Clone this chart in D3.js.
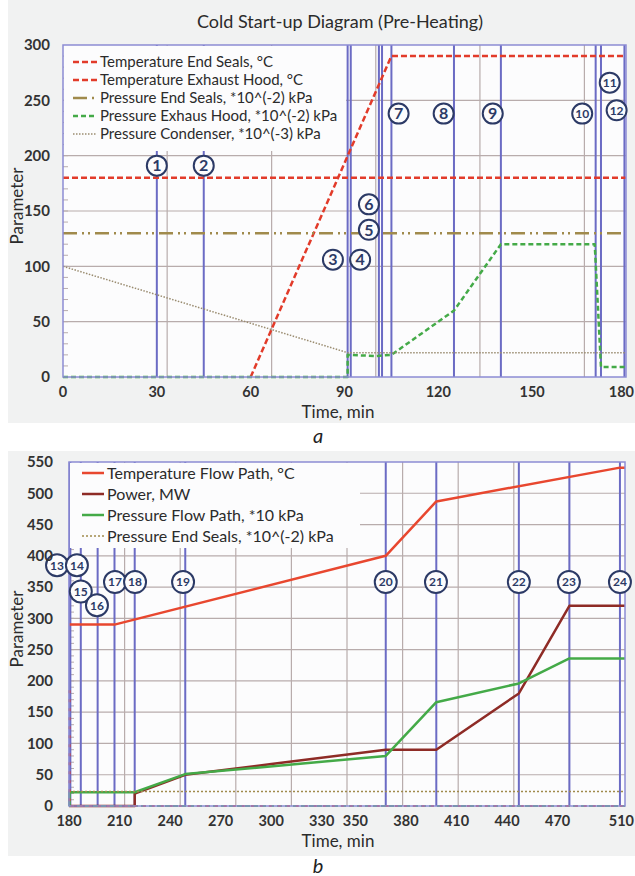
<!DOCTYPE html>
<html>
<head>
<meta charset="utf-8">
<script src="https://cdn.jsdelivr.net/npm/d3@7"></script>
<style>
  body { margin: 0; background: #fff; }
  svg text { font-family: Lato, "DejaVu Sans", sans-serif; }
</style>
</head>
<body>
<div id="chart"></div>
<script>
// ---------- panel a : pre-heating (time, min) ----------
const timeTicksA = [0, 30, 60, 90, 120, 150, 180];
const valueTicksA = [0, 50, 100, 150, 200, 250, 300];
const tempEndSealsA = [[0, 180], [180, 180]];
const tempExhaustHoodA = [[60, 0], [105, 290], [180, 290]];
const presEndSealsA = [[0, 130], [180, 130]];
const presExhaustHoodA = [[0, 0], [91, 0], [91, 20], [100, 19], [105, 20], [125, 60], [140, 120], [170, 120], [172, 9], [180, 9]];
const presCondenserA = [[0, 100], [91, 22], [180, 22]];
const markerTimesA = [30, 45, 91, 92, 101, 102, 105, 125, 140, 170.3, 172, 179.5];
const markerLabelsA = ["1", "2", "3", "4", "5", "6", "7", "8", "9", "10", "11", "12"];
const markerLabelAtA = [[30, 191], [45, 191], [86.3, 106], [95, 106], [97.8, 133], [97.8, 156],
  [107.3, 238], [121.7, 238], [137.4, 238], [166, 238], [174.8, 266], [177, 241]];

// ---------- panel b : loading (time, min) ----------
const timeTicksB = [180, 210, 240, 270, 300, 330, 350, 380, 410, 440, 470, 510];
const valueTicksB = [0, 50, 100, 150, 200, 250, 300, 350, 400, 450, 500, 550];
const tempFlowPathB = [[180, 290], [207, 290], [368, 400], [398, 487], [507, 541], [510, 541]];
const powerB = [[180, 0], [219, 0], [219, 20], [249, 50], [368, 90], [398, 90], [447, 180], [477, 320], [510, 320]];
const presFlowPathB = [[180.3, 0], [180.3, 22], [219, 22], [249, 51], [368, 80], [398, 166], [447, 196], [477, 236], [510, 236]];
const presEndSealsB = [[180, 23], [510, 23]];
const tempEndSealsB = [[180.3, 185], [180.3, 0], [510, 0]];
const presExhaustHoodB = [[180, 0], [510, 0]];
const markerTimesB = [180.4, 180.8, 187, 197, 207, 219, 249, 368, 398, 447, 477, 507];
const markerLabelsB = ["13", "14", "15", "16", "17", "18", "19", "20", "21", "22", "23", "24"];
const markerLabelAtB = [[172.9, 385], [184.7, 385], [187, 343], [196.6, 321], [207.3, 358], [219.2, 358],
  [247.7, 358], [368, 358], [397.8, 358], [447, 358], [476.7, 358], [507, 358]];

const W = 635, H = 876;
const svg = d3.select("#chart").append("svg").attr("width", W).attr("height", H);

const RED = "#e23b2a", GREEN = "#44aa48", OLIVE = "#a08a4c", GRID = "#b8acac", BLUE = "#6b6bc4";

function drawPanel(p) {
  svg.append("rect").attr("x", p.bg[0]).attr("y", p.bg[1]).attr("width", p.bg[2]).attr("height", p.bg[3]).attr("fill", "#f1f2f2");
  const x = d3.scaleLinear().domain(p.xDomain).range([p.left, p.right]);
  const y = d3.scaleLinear().domain(p.yDomain).range([p.bottom, p.top]);
  const g = svg.append("g");

  g.append("rect").attr("x", p.left).attr("y", p.top).attr("width", p.right - p.left).attr("height", p.bottom - p.top)
    .attr("fill", "#fcfcfd");

  // grid
  g.selectAll(null).data(p.gridX).join("line")
    .attr("x1", d => x(d)).attr("x2", d => x(d)).attr("y1", p.top).attr("y2", p.bottom)
    .attr("stroke", GRID).attr("stroke-width", 1.2);
  g.selectAll(null).data(p.yTicks.slice(1, -1)).join("line")
    .attr("x1", p.left).attr("x2", p.right).attr("y1", d => y(d)).attr("y2", d => y(d))
    .attr("stroke", GRID).attr("stroke-width", 1.2);
  // minor ticks on the value axis
  g.selectAll(null).data(d3.range(p.yDomain[0], p.yDomain[1], 10)).join("line")
    .attr("x1", p.left).attr("x2", p.left + 5).attr("y1", d => y(d)).attr("y2", d => y(d))
    .attr("stroke", GRID).attr("stroke-width", 1);

  // event markers (vertical lines)
  g.selectAll(null).data(p.markerTimes).join("line")
    .attr("x1", d => x(d)).attr("x2", d => x(d)).attr("y1", p.top).attr("y2", p.bottom)
    .attr("stroke", BLUE).attr("stroke-width", 2);

  const line = d3.line().x(d => x(d[0])).y(d => y(d[1]));
  p.series.forEach(s => {
    g.append("path").attr("d", line(s.data)).attr("fill", "none")
      .attr("stroke", s.color).attr("stroke-width", s.width || 2.5)
      .attr("stroke-dasharray", s.dash || null).attr("stroke-linejoin", "round");
  });

  // border
  g.append("rect").attr("x", p.left).attr("y", p.top).attr("width", p.right - p.left).attr("height", p.bottom - p.top)
    .attr("fill", "none").attr("stroke", "#8c8cd4").attr("stroke-width", 1.5);

  // legend
  const lg = p.legend;
  g.append("rect").attr("x", p.left + 1).attr("y", p.top + 1).attr("width", lg.w).attr("height", lg.h).attr("fill", "#fcfcfd");
  p.series.filter(s => s.name).forEach((s, i) => {
    const yy = lg.y0 + i * lg.dy;
    g.append("line").attr("x1", lg.x0).attr("x2", lg.x0 + lg.len).attr("y1", yy).attr("y2", yy)
      .attr("stroke", s.color).attr("stroke-width", s.width || 2.5).attr("stroke-dasharray", s.dash || null);
    g.append("text").attr("x", lg.x0 + lg.len + 3).attr("y", yy).attr("dy", "0.35em")
      .attr("font-size", lg.fs).attr("fill", "#2b2b2b").text(s.name);
  });

  // marker labels
  const mk = g.selectAll(null).data(p.markerLabels).join("g")
    .attr("transform", (d, i) => `translate(${x(p.markerAt[i][0])},${y(p.markerAt[i][1])})`);
  mk.append("circle").attr("r", p.r).attr("fill", "#fcfcfd").attr("stroke", "#2c3a66").attr("stroke-width", 2);
  mk.append("text").attr("text-anchor", "middle").attr("dy", "0.36em").attr("font-weight", "bold")
    .attr("font-size", d => d.length > 1 ? 12 : 16).attr("fill", "#2c3a66").text(d => d);

  // axes labels
  g.selectAll(null).data(p.yTicks).join("text")
    .attr("x", p.left - p.yLabOff).attr("y", d => y(d)).attr("dy", "0.35em").attr("text-anchor", "end")
    .attr("font-size", 15).attr("font-weight", "bold").attr("fill", "#333").text(d => d);
  const last = p.xTicks[p.xTicks.length - 1];
  g.selectAll(null).data(p.xTicks).join("text")
    .attr("x", d => d === last ? W - 1 : x(d)).attr("y", p.bottom + 20)
    .attr("text-anchor", d => d === last ? "end" : "middle")
    .attr("font-size", 14.5).attr("font-weight", "bold").attr("fill", "#333").text(d => d);
  g.append("text").attr("x", 338).attr("y", p.bottom + 41).attr("text-anchor", "middle")
    .attr("font-size", 17).attr("fill", "#2b2b2b").text("Time, min");
  g.append("text").attr("transform", `translate(23,${(p.top + p.bottom) / 2 - 5}) rotate(-90)`)
    .attr("text-anchor", "middle").attr("font-size", 17).attr("fill", "#2b2b2b").text("Parameter");
  g.append("text").attr("x", 318).attr("y", p.captionY).attr("text-anchor", "middle")
    .attr("font-family", "'Liberation Serif', serif").attr("font-style", "italic")
    .attr("font-size", 20).attr("fill", "#222").text(p.caption);
  return { x, y };
}

drawPanel({
  bg: [8, 0, 627, 423], left: 63, right: 626, top: 45, bottom: 377,
  xDomain: [0, 180], yDomain: [0, 300], xTicks: timeTicksA, yTicks: valueTicksA,
  gridX: [33.3, 66.7, 100, 133.3, 166.7], yLabOff: 13,
  markerTimes: markerTimesA, markerLabels: markerLabelsA, markerAt: markerLabelAtA, r: 10,
  legend: { w: 282, h: 105, x0: 73, y0: 62, dy: 18, len: 24, fs: 15 },
  caption: "a", captionY: 443,
  series: [
    { name: "Temperature End Seals, °C", data: tempEndSealsA, color: RED, dash: "6,3" },
    { name: "Temperature Exhaust Hood, °C", data: tempExhaustHoodA, color: RED, dash: "6,3" },
    { name: "Pressure End Seals, *10^(-2) kPa", data: presEndSealsA, color: OLIVE, dash: "14,5,2,4,2,5" },
    { name: "Pressure Exhaus Hood, *10^(-2) kPa", data: presExhaustHoodA, color: GREEN, dash: "5,3" },
    { name: "Pressure Condenser, *10^(-3) kPa", data: presCondenserA, color: "#9a8c70", width: 1.5, dash: "1.5,1.5" }
  ]
});

drawPanel({
  bg: [8, 451, 627, 405], left: 69, right: 625, top: 462, bottom: 806,
  xDomain: [180, 510], yDomain: [0, 550], xTicks: timeTicksB, yTicks: valueTicksB,
  gridX: d3.range(213, 510, 33), yLabOff: 16,
  markerTimes: markerTimesB, markerLabels: markerLabelsB, markerAt: markerLabelAtB, r: 11,
  legend: { w: 290, h: 85, x0: 82, y0: 473, dy: 21, len: 22, fs: 16 },
  caption: "b", captionY: 873,
  series: [
    { name: "Temperature Flow Path, °C", data: tempFlowPathB, color: "#e8472f" },
    { name: "Power, MW", data: powerB, color: "#8e2b26" },
    { name: "Pressure Flow Path, *10 kPa", data: presFlowPathB, color: GREEN },
    { name: "Pressure End Seals, *10^(-2) kPa", data: presEndSealsB, color: OLIVE, width: 1.5, dash: "2,2" },
    { data: presExhaustHoodB, color: GREEN, width: 2, dash: "5,3" },
    { data: tempEndSealsB, color: RED, width: 2, dash: "3,6" }
  ]
});

svg.append("text").attr("x", 340).attr("y", 28).attr("text-anchor", "middle")
  .attr("font-size", 18).attr("fill", "#2b2b2b").text("Cold Start-up Diagram (Pre-Heating)");
</script>
</body>
</html>
